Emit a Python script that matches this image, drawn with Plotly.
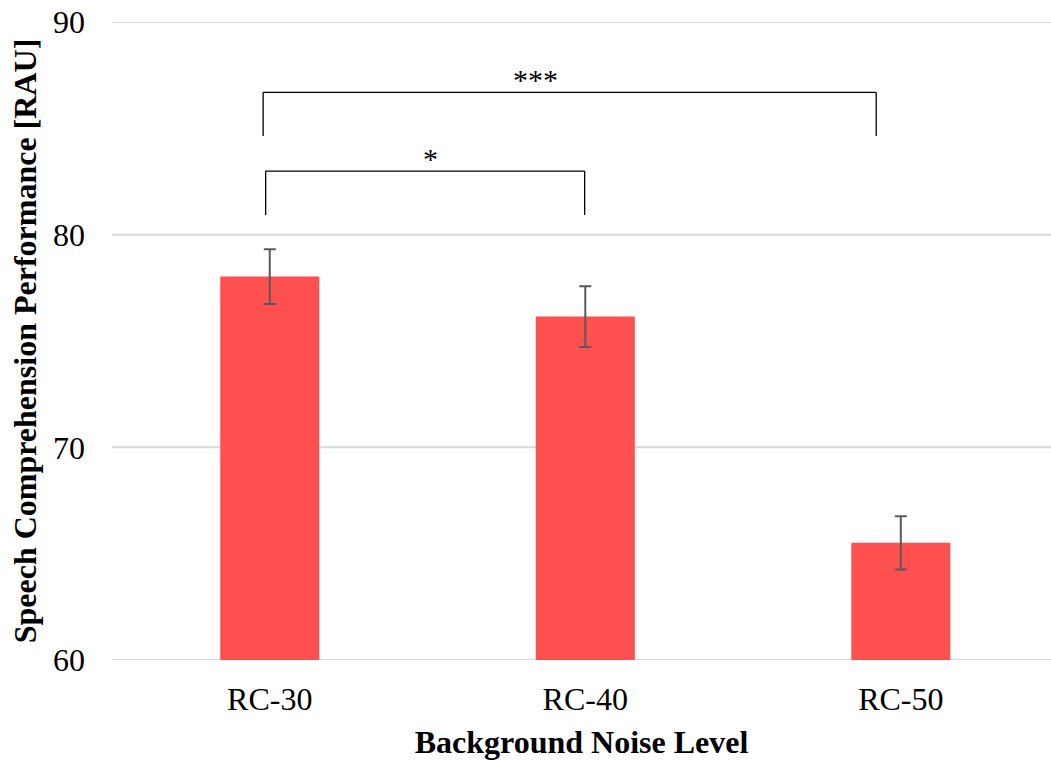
import plotly.graph_objects as go

categories = ["RC-30", "RC-40", "RC-50"]
means = [78.03, 76.15, 65.51]
errors = [1.29, 1.43, 1.25]
y_ticks = [60, 70, 80, 90]

# significance comparisons: (left index offset, right index offset, leg bottom, bracket top, label)
brackets = [
    (-0.013, 0.998, 80.93, 82.99, "*"),
    (-0.021, 1.922, 84.64, 86.69, "***"),
]
label_x = [0.508, 0.841]

FONT = "Liberation Serif, Times New Roman, serif"

fig = go.Figure()

# gridlines drawn as shapes so the edge lines (60, 90) show too
for v in y_ticks:
    fig.add_shape(type="line", xref="paper", yref="y", x0=0, x1=1, y0=v, y1=v,
                  line=dict(color="#d9d9d9", width=2), layer="below")

fig.add_trace(go.Bar(
    x=categories, y=means, width=0.314,
    marker=dict(color="#FF5050", line=dict(width=0)),
    error_y=dict(type="data", array=errors, visible=True,
                 color="#595959", thickness=2, width=6),
))

for (x0, x1, yb, yt, lab), lx in zip(brackets, label_x):
    fig.add_shape(type="line", xref="x", yref="y", x0=x0, x1=x0, y0=yb, y1=yt,
                  line=dict(color="black", width=1.3))
    fig.add_shape(type="line", xref="x", yref="y", x0=x0, x1=x1, y0=yt, y1=yt,
                  line=dict(color="black", width=1.3))
    fig.add_shape(type="line", xref="x", yref="y", x0=x1, x1=x1, y0=yt, y1=yb,
                  line=dict(color="black", width=1.3))
    fig.add_annotation(x=lx, y=yt, xref="x", yref="y", text=lab, showarrow=False,
                       yanchor="bottom", yshift=-6,
                       font=dict(family=FONT, size=30, color="black"))

fig.update_layout(
    width=1051, height=761,
    margin=dict(l=112, r=0, t=22, b=101),
    plot_bgcolor="white", paper_bgcolor="white",
    showlegend=False,
    font=dict(family=FONT, size=32, color="black"),
    xaxis=dict(range=[-0.5, 2.476], showline=False, showgrid=False, automargin=False,
               ticks="", tickfont=dict(size=32), ticklabelstandoff=17,
               title=dict(text="<b>Background Noise Level</b>", font=dict(size=32), standoff=14)),
    yaxis=dict(range=[60, 90], tickvals=y_ticks, showline=False, automargin=False,
               showgrid=False, zeroline=False,
               ticks="", ticklabelstandoff=26, ticklabeloverflow="allow",
               tickfont=dict(size=32),
               title=dict(text="<b>Speech Comprehension Performance [RAU]</b>",
                          font=dict(size=32), standoff=6)),
)

fig.write_html("out.html",
               config={"displayModeBar": False},
               post_script="document.body.style.margin='0';document.body.style.overflow='hidden';")
